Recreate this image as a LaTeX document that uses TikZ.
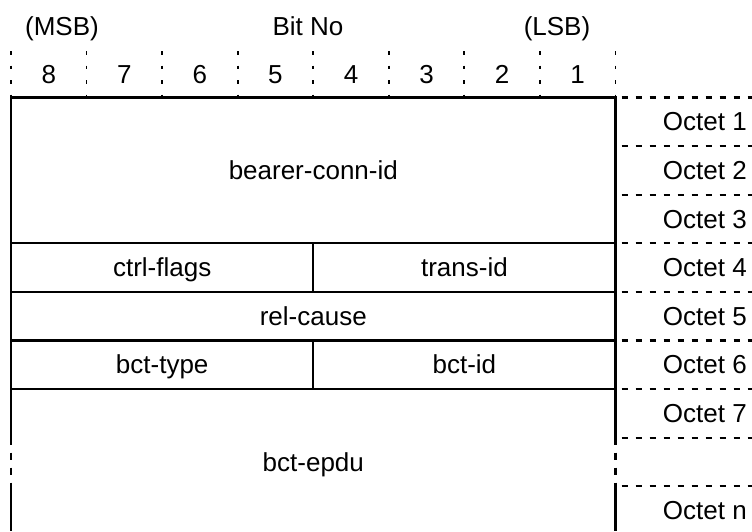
\documentclass[tikz,border=0pt]{standalone}
\usepackage{fontspec}
\setmainfont{Liberation Sans}
\begin{document}
\begin{tikzpicture}[x=1pt,y=-1pt,
  boxline/.style={line width=2.2pt},
  gapline/.style={line width=2.2pt, dash pattern=on 7pt off 8pt},
  octline/.style={line width=2.2pt, dash pattern=on 6pt off 8pt, dash phase=8pt},
  bitline/.style={line width=1.8pt, dash pattern=on 3.5pt off 11pt},
  lbl/.style={font=\fontsize{26}{30}\selectfont, inner sep=0pt, anchor=base}]
\useasboundingbox (0,0) rectangle (752,531);
% header
\node[lbl] (msb) at (62,35.5) {(MSB)};
\node[lbl] (bitno) at (308,35.5) {Bit No};
\node[lbl] (lsb) at (557,35.5) {(LSB)};
% bit columns
\foreach \k in {0,...,8} {
  \draw[bitline] (11+75.56*\k,51) -- (11+75.56*\k,97);
}
\foreach \b [count=\i from 0] in {8,7,6,5,4,3,2,1} {
  \node[lbl] (bit\b) at (11+75.56*\i+37.78,83.5) {\b};
}
% box
\draw[boxline] (11,437.7) -- (11,97.5) -- (615.5,97.5) -- (615.5,437.7);
\draw[boxline] (11,486.3) -- (11,531);
\draw[boxline] (615.5,486.3) -- (615.5,531);
\draw[gapline] (11,437.7) -- (11,486.3);
\draw[gapline] (615.5,437.7) -- (615.5,486.3);
\foreach \y in {243.3,291.9,340.5,389.1} {
  \draw[boxline] (11,\y) -- (615.5,\y);
}
\draw[boxline] (313.3,243.3) -- (313.3,291.9);
\draw[boxline] (313.3,340.5) -- (313.3,389.1);
% octet dividers
\foreach \y in {97.5,146.1,194.7,243.3,291.9,340.5,389.1,437.7,486.3} {
  \draw[octline] (615.5,\y) -- (752,\y);
}
% field texts (baseline = row centre + 9)
\node[lbl] (bearer) at (313.3,179.4) {bearer-conn-id};
\node[lbl] (ctrl) at (162.2,276.6) {ctrl-flags};
\node[lbl] (trans) at (464.4,276.6) {trans-id};
\node[lbl] (rel) at (313.3,325.2) {rel-cause};
\node[lbl] (bcttype) at (162.2,373.8) {bct-type};
\node[lbl] (bctid) at (464.4,373.8) {bct-id};
\node[lbl] (epdu) at (313.3,471) {bct-epdu};
% octet labels
\foreach \y/\t [count=\i] in {130.8/1,179.4/2,228/3,276.6/4,325.2/5,373.8/6,422.4/7} {
  \node[lbl, anchor=base east] (oct\i) at (747,\y) {Octet \t};
}
\node[lbl, anchor=base east] (octn) at (747,519.6) {Octet n};
\end{tikzpicture}
\end{document}
